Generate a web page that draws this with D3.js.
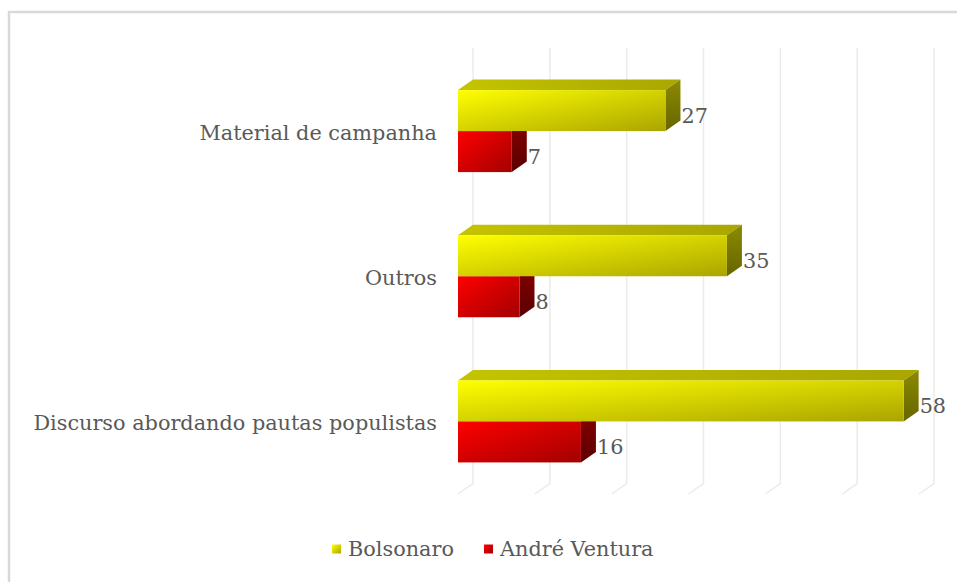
<!DOCTYPE html>
<html>
<head>
<meta charset="utf-8">
<script src="https://cdn.jsdelivr.net/npm/d3@7"></script>
<style>
  html, body { margin: 0; padding: 0; background: #fff; }
  svg text { font-family: "DejaVu Serif", serif; fill: #595959; }
</style>
</head>
<body>
<script>
"use strict";

// data
var categories = ["Material de campanha", "Outros", "Discurso abordando pautas populistas"];
var seriesNames = ["Bolsonaro", "André Ventura"];
var bolsonaro = [27, 35, 58];
var ventura = [7, 8, 16];
var ticks = [0, 10, 20, 30, 40, 50, 60];

var W = 957, H = 582;
var depthX = 15, depthY = -10.5;   // 3d offset of the back face
var plotLeft = 458, plotRight = 919, plotTop = 58.5, plotBottom = 494;
var fontSize = "20.8px";

var colors = {
    "Bolsonaro": { front: ["#ffff00", "#aaa500"], top: ["#c4c400", "#a9a700"], side: ["#8c8a00", "#676500"] },
    "André Ventura": { front: ["#ff0000", "#a30000"], top: ["#c80000", "#a00000"], side: ["#850000", "#5c0000"] }
};

var rows = categories.map(function(c, i) {
    return { cat: c, values: [
        { series: seriesNames[0], value: bolsonaro[i] },
        { series: seriesNames[1], value: ventura[i] }
    ] };
});

var svg = d3.select("body").append("svg")
    .attr("width", W).attr("height", H);

// gradients
var defs = svg.append("defs");
seriesNames.forEach(function(s, si) {
    ["front", "top", "side"].forEach(function(face) {
        var g = defs.append("linearGradient")
            .attr("id", "g" + si + face)
            .attr("x1", 0).attr("y1", 0)
            .attr("x2", face === "side" ? 0 : 1)
            .attr("y2", face === "top" ? 0 : 1);
        g.append("stop").attr("offset", "0%").attr("stop-color", colors[s][face][0]);
        g.append("stop").attr("offset", "100%").attr("stop-color", colors[s][face][1]);
    });
});

// outer frame (cut off at right and bottom)
svg.append("rect")
    .attr("x", 9).attr("y", 12)
    .attr("width", W + 20).attr("height", H + 20)
    .attr("fill", "none")
    .attr("stroke", "#d9d9d9")
    .attr("stroke-width", 2.5);

var x = d3.scaleLinear().domain([0, 60]).range([plotLeft, plotRight]);
var y = d3.scaleBand().domain(categories)
    .range([plotTop, plotBottom])
    .paddingInner(0.435).paddingOuter(0.2175);
var ySub = d3.scaleBand().domain(seriesNames).range([0, y.bandwidth()]);

// gridlines (back wall + floor)
svg.append("g").selectAll("path")
    .data(ticks)
    .enter().append("path")
    .attr("d", function(t) {
        return "M" + x(t) + "," + plotBottom +
            "L" + (x(t) + depthX) + "," + (plotBottom + depthY) +
            "L" + (x(t) + depthX) + "," + (plotTop + depthY);
    })
    .attr("fill", "none")
    .attr("stroke", "#ebebeb")
    .attr("stroke-width", 1.5);

// bars, drawn from bottom to top so upper bars hide lower top faces
var bars = [];
rows.forEach(function(r) {
    r.values.forEach(function(v, si) {
        bars.push({ cat: r.cat, series: v.series, si: si, value: v.value });
    });
});
bars.sort(function(a, b) {
    return (y(b.cat) + ySub(b.series)) - (y(a.cat) + ySub(a.series));
});

var bar = svg.append("g").selectAll("g.bar")
    .data(bars)
    .enter().append("g").attr("class", "bar");

function barGeom(d) {
    var y0 = y(d.cat) + ySub(d.series);
    return { x0: x(0), x1: x(d.value), y0: y0, y1: y0 + ySub.bandwidth() };
}

bar.append("path") // top face
    .attr("d", function(d) {
        var b = barGeom(d);
        return "M" + b.x0 + "," + b.y0 + "L" + (b.x0 + depthX) + "," + (b.y0 + depthY) +
            "L" + (b.x1 + depthX) + "," + (b.y0 + depthY) + "L" + b.x1 + "," + b.y0 + "Z";
    })
    .attr("fill", function(d) { return "url(#g" + d.si + "top)"; });

bar.append("path") // side face
    .attr("d", function(d) {
        var b = barGeom(d);
        return "M" + b.x1 + "," + b.y0 + "L" + (b.x1 + depthX) + "," + (b.y0 + depthY) +
            "L" + (b.x1 + depthX) + "," + (b.y1 + depthY) + "L" + b.x1 + "," + b.y1 + "Z";
    })
    .attr("fill", function(d) { return "url(#g" + d.si + "side)"; });

bar.append("rect") // front face
    .attr("x", function(d) { return barGeom(d).x0; })
    .attr("y", function(d) { return barGeom(d).y0; })
    .attr("width", function(d) { return barGeom(d).x1 - barGeom(d).x0; })
    .attr("height", ySub.bandwidth())
    .attr("fill", function(d) { return "url(#g" + d.si + "front)"; });

// value labels
svg.append("g").selectAll("text")
    .data(bars)
    .enter().append("text")
    .attr("x", function(d) { return x(d.value) + depthX + 1; })
    .attr("y", function(d) { return y(d.cat) + ySub(d.series) + ySub.bandwidth() / 2 + 6.5; })
    .attr("dominant-baseline", "middle")
    .style("font-size", fontSize)
    .text(function(d) { return d.value; });

// category labels
svg.append("g").selectAll("text")
    .data(categories)
    .enter().append("text")
    .attr("x", 437)
    .attr("y", function(c) { return y(c) + y.bandwidth() / 2 + 3.5; })
    .attr("text-anchor", "end")
    .attr("dominant-baseline", "middle")
    .style("font-size", fontSize)
    .text(function(c) { return c; });

// legend
var legendX = [332, 484];
var legend = svg.append("g").selectAll("g")
    .data(seriesNames)
    .enter().append("g")
    .attr("transform", function(s, i) { return "translate(" + legendX[i] + ",549)"; });
legend.append("rect")
    .attr("x", 0).attr("y", -4.5)
    .attr("width", 9).attr("height", 9)
    .attr("fill", function(s, i) { return "url(#g" + i + "front)"; });
legend.append("text")
    .attr("x", 16).attr("y", 1.5)
    .attr("dominant-baseline", "middle")
    .style("font-size", fontSize)
    .text(function(s) { return s; });
</script>
</body>
</html>
